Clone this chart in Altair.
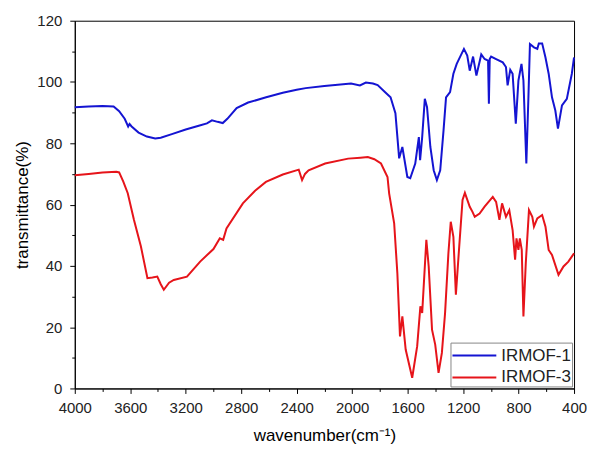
import altair as alt
import pandas as pd

# IRMOF-1 (blue)
wn1 = [4000, 3900, 3800, 3720, 3680, 3640, 3615, 3605, 3590, 3540, 3480, 3420, 3380, 3300, 3200,
       3100, 3047, 3011, 2970, 2933, 2900, 2833, 2750, 2620, 2500, 2400, 2335, 2200, 2008, 1944,
       1901, 1850, 1816, 1760, 1723, 1688, 1661, 1638, 1602, 1581, 1545, 1519, 1510, 1495, 1476,
       1460, 1436, 1412, 1389, 1365, 1341, 1323, 1294, 1270, 1246, 1194, 1170, 1152, 1128, 1104,
       1069, 1045, 1020, 1014, 1008, 998, 962, 914, 891, 879, 860, 843, 820, 801, 779,
       765, 744, 729, 718, 689, 665, 654, 630, 606, 583, 559, 535, 516, 487, 452,
       416, 400]
t1 = [91.8, 92.0, 92.2, 92.0, 90.5, 88.0, 85.5, 86.3, 85.5, 83.5, 82.2, 81.6, 81.8, 83.0, 84.5,
      85.8, 86.5, 87.5, 87.0, 86.6, 88.0, 91.5, 93.3, 95.0, 96.5, 97.5, 98.0, 98.7, 99.5, 98.9,
      99.8, 99.5, 99.0, 96.6, 95.0, 89.8, 75.1, 78.8, 69.0, 68.6, 73.4, 82.0, 74.5, 82.0, 94.5,
      91.8, 78.8, 71.2, 68.0, 71.2, 84.2, 95.0, 96.7, 102.7, 105.9, 110.8, 108.6, 103.7, 108.3, 102.1,
      109.0, 107.5, 107.0, 92.9, 107.5, 108.3, 107.5, 106.4, 104.9, 98.9, 104.0, 102.7, 86.4, 100.5, 105.9,
      100.5, 73.4, 95.0, 112.4, 111.3, 110.8, 112.6, 112.6, 108.0, 102.7, 95.0, 90.7, 84.8, 92.4, 94.5,
      102.7, 108.0]

# IRMOF-3 (red)
wn3 = [4000, 3900, 3800, 3700, 3680, 3650, 3618, 3573, 3523, 3476, 3440, 3405, 3380, 3358, 3320,
       3286, 3191, 3096, 3000, 2954, 2930, 2906, 2788, 2700, 2622, 2500, 2385, 2361, 2340, 2314,
       2195, 2029, 1940, 1887, 1840, 1792, 1745, 1733, 1697, 1674, 1655, 1638, 1614, 1567, 1531,
       1508, 1495, 1465, 1448, 1424, 1401, 1377, 1353, 1330, 1306, 1289, 1270, 1252, 1228, 1204,
       1187, 1152, 1133, 1116, 1081, 1045, 986, 962, 938, 919, 891, 867, 843, 825, 815,
       801, 791, 777, 765, 748, 725, 701, 689, 665, 630, 606, 583, 559, 512, 476,
       441, 400]
t3 = [69.6, 70.0, 70.5, 70.7, 70.5, 67.5, 63.7, 55.0, 46.3, 36.0, 36.2, 36.5, 34.0, 32.2, 34.5,
      35.4, 36.5, 41.4, 45.5, 49.0, 48.5, 52.2, 60.4, 64.5, 67.4, 69.8, 71.4, 68.0, 70.0, 71.2,
      73.4, 75.0, 75.3, 75.5, 74.8, 73.4, 69.0, 63.6, 53.9, 37.6, 17.0, 23.5, 12.7, 3.5, 13.8,
      26.8, 24.6, 48.5, 39.8, 19.2, 14.3, 5.1, 11.6, 24.6, 44.1, 54.4, 49.5, 30.6, 46.3, 61.5,
      63.8, 59.3, 57.7, 56.0, 57.1, 59.3, 62.5, 60.9, 55.0, 60.4, 56.0, 58.2, 51.7, 42.0, 49.0,
      45.2, 49.0, 45.2, 23.5, 40.9, 58.2, 56.0, 52.8, 55.5, 56.6, 52.8, 45.2, 43.6, 37.1, 39.8,
      41.4, 44.1]

x_major = [4000, 3600, 3200, 2800, 2400, 2000, 1600, 1200, 800, 400]
x_minor = [3800, 3400, 3000, 2600, 2200, 1800, 1400, 1000, 600]
y_major = [0, 20, 40, 60, 80, 100, 120]
y_minor = [10, 30, 50, 70, 90, 110]

df = pd.concat([
    pd.DataFrame({"wn": wn1, "t": t1, "sample": "IRMOF-1"}),
    pd.DataFrame({"wn": wn3, "t": t3, "sample": "IRMOF-3"}),
])

FONT = "Liberation Sans"
AX = dict(labelFont=FONT, titleFont=FONT, labelFontSize=15, titleFontSize=17,
          titleFontWeight="normal", labelColor="#222222", titleColor="black",
          domainColor="black", tickColor="black", grid=False, ticks=True,
          labelFlush=False, labelOverlap=False)
xscale = alt.Scale(domain=[4000, 400], nice=False, zero=False)
yscale = alt.Scale(domain=[0, 120], nice=False)

lines = alt.Chart(df).mark_line(strokeWidth=2).encode(
    x=alt.X("wn:Q", scale=xscale,
            axis=alt.Axis(values=x_major, title="wavenumber(cm⁻¹)", orient="bottom",
                          tickSize=5, labelPadding=7, titlePadding=12, format="d", **AX)),
    y=alt.Y("t:Q", scale=yscale,
            axis=alt.Axis(values=y_major, title="transmittance(%)", orient="left",
                          tickSize=5, labelPadding=8, titlePadding=5, **AX)),
    color=alt.Color("sample:N",
                    scale=alt.Scale(domain=["IRMOF-1", "IRMOF-3"], range=["#1414d2", "#e6141a"]),
                    legend=alt.Legend(title=None, orient="bottom-right", offset=2,
                                      symbolType="M-1,0H3", symbolSize=484, symbolStrokeWidth=2,
                                      labelFontSize=17, labelFont=FONT, labelColor="#222222",
                                      strokeColor="#888888", padding=1, rowPadding=2,
                                      labelOffset=26, fillColor="white")),
    order=alt.Order("wn:Q", sort="descending"),
)

minor = alt.Chart(df).mark_line(opacity=0).encode(
    x=alt.X("wn:Q", scale=xscale,
            axis=alt.Axis(values=x_minor, labels=False, title=None, orient="bottom",
                          tickSize=3, domain=False, ticks=True, tickColor="black", grid=False)),
    y=alt.Y("t:Q", scale=yscale,
            axis=alt.Axis(values=y_minor, labels=False, title=None, orient="left",
                          tickSize=3, domain=False, ticks=True, tickColor="black", grid=False)),
)

chart = alt.layer(lines, minor).resolve_axis(x="independent", y="independent").properties(
    width=501, height=369, background="white",
    padding={"left": 5, "top": 5, "right": 0, "bottom": 5}
).configure_view(stroke="black", strokeWidth=1)

chart.save("out.html", embed_options={"renderer": "svg", "actions": False})
